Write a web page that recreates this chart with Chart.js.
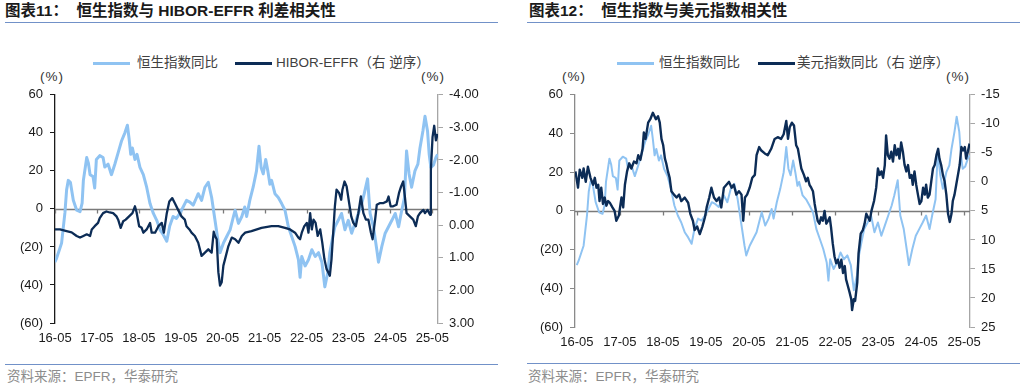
<!DOCTYPE html>
<html>
<head>
<meta charset="utf-8">
<script src="https://cdn.jsdelivr.net/npm/chart.js@4.4.1/dist/chart.umd.min.js"></script>
<style>
  body { margin: 0; background: #fff; width: 1024px; height: 384px; overflow: hidden; position: relative;
         font-family: "Liberation Sans", "Noto Sans CJK SC", sans-serif; }
  .abs { position: absolute; white-space: nowrap; }
  .title { font-weight: bold; font-size: 15.5px; color: #1a1a1a; top: 2px; line-height: 18px; }
  .rule { height: 1px; background: #7191c8; }
  .src { font-size: 13.5px; color: #8c8c8c; top: 369px; line-height: 16px; }
  .leg { font-size: 13.5px; color: #404040; top: 55px; line-height: 16px; }
  .sw { height: 2.5px; top: 62px; width: 37px; }
  .unit { font-size: 13.5px; color: #333; top: 69px; line-height: 16px; letter-spacing: 1px; }
  canvas { position: absolute; }
</style>
</head>
<body>
<div class="abs title" style="left:5px">图表11：&nbsp;&nbsp;恒生指数与 HIBOR-EFFR 利差相关性</div>
<div class="abs title" style="left:529px">图表12：&nbsp;&nbsp;恒生指数与美元指数相关性</div>
<div class="abs rule" style="left:5px;width:493px;top:22px"></div>
<div class="abs rule" style="left:527px;width:493px;top:22px"></div>

<div class="abs sw" style="left:93px;background:#8fc3f2"></div>
<div class="abs leg" style="left:137px">恒生指数同比</div>
<div class="abs sw" style="left:235px;background:#0c2c56"></div>
<div class="abs leg" style="left:276px">HIBOR-EFFR（右 逆序）</div>
<div class="abs sw" style="left:617px;background:#8fc3f2"></div>
<div class="abs leg" style="left:659px">恒生指数同比</div>
<div class="abs sw" style="left:758px;background:#0c2c56"></div>
<div class="abs leg" style="left:797px">美元指数同比（右 逆序）</div>

<div class="abs unit" style="left:40px">(%)</div>
<div class="abs unit" style="left:421px">(%)</div>
<div class="abs unit" style="left:562px">(%)</div>
<div class="abs unit" style="left:946px">(%)</div>

<canvas id="c11" width="512" height="275" style="left:0;top:80px"></canvas>
<canvas id="c12" width="512" height="275" style="left:512px;top:80px"></canvas>

<div class="abs rule" style="left:5px;width:493px;top:364px"></div>
<div class="abs rule" style="left:527px;width:493px;top:363px"></div>
<div class="abs src" style="left:7px">资料来源：EPFR，华泰研究</div>
<div class="abs src" style="left:528px">资料来源：EPFR，华泰研究</div>

<script>
// x axis labels (May of each year)
const xLabels = ['16-05', '17-05', '18-05', '19-05', '20-05', '21-05', '22-05', '23-05', '24-05', '25-05'];
const tickYears = xLabels.map(l => 2000 + parseInt(l) + 4 / 12);

// 恒生指数同比 (%), dates as decimal years
const hsiDates = [2016.33, 2016.37, 2016.43, 2016.49, 2016.57, 2016.61, 2016.65, 2016.70, 2016.77, 2016.85,
  2016.93, 2016.98, 2017.01, 2017.09, 2017.13, 2017.17, 2017.24, 2017.28, 2017.32, 2017.40,
  2017.48, 2017.52, 2017.60, 2017.68, 2017.76, 2017.84, 2017.92, 2018.00, 2018.06, 2018.10,
  2018.14, 2018.18, 2018.24, 2018.29, 2018.36, 2018.44, 2018.52, 2018.60, 2018.68, 2018.76,
  2018.84, 2018.92, 2019.00, 2019.07, 2019.15, 2019.23, 2019.31, 2019.39, 2019.47, 2019.55,
  2019.63, 2019.71, 2019.75, 2019.83, 2019.91, 2019.99, 2020.07, 2020.15, 2020.23, 2020.27,
  2020.35, 2020.43, 2020.51, 2020.59, 2020.63, 2020.71, 2020.79, 2020.86, 2020.905, 2020.98,
  2021.06, 2021.14, 2021.20, 2021.25, 2021.30, 2021.36, 2021.41, 2021.46, 2021.50, 2021.58,
  2021.66, 2021.74, 2021.82, 2021.90, 2021.98, 2022.06, 2022.14, 2022.18, 2022.22, 2022.30,
  2022.38, 2022.46, 2022.54, 2022.62, 2022.70, 2022.77, 2022.84, 2022.89, 2022.95, 2023.01,
  2023.09, 2023.17, 2023.25, 2023.33, 2023.41, 2023.49, 2023.57, 2023.65, 2023.71, 2023.79,
  2023.85, 2023.93, 2024.01, 2024.05, 2024.13, 2024.21, 2024.29, 2024.37, 2024.45, 2024.53,
  2024.59, 2024.67, 2024.72, 2024.78, 2024.84, 2024.92, 2024.99, 2025.04, 2025.11, 2025.16,
  2025.22, 2025.26, 2025.30, 2025.36, 2025.42, 2025.46];
const hsiValues = [-28, -26, -22, -18, -2, 10, 15, 14, 4.5, -0.7,
  -1.5, 3, 15, 27, 24, 18, 17, 11, 26, 28,
  27, 22, 23.5, 18, 23.5, 29.6, 35.7, 40, 44, 37,
  28.7, 32, 26, 28.7, 21.8, 18, 11.4, 2.8, -2.4, -6,
  -11, -13.7, -17, -9, -4, -5, -2.4, 1, 4.5, 3.6,
  2, 6, 8, 4.5, 11.4, 14, 6, -6, -18, -23,
  -18, -14.5, -11, -4, -0.7, -7.6, -4, 1, -4, 4.5,
  11.4, 20, 33, 21.8, 18.4, 26, 20, 13, 15, 8,
  6, 2.8, -0.7, -9.4, -14.5, -19.7, -26.7, -36, -25, -30,
  -26.7, -21.5, -25, -23, -28, -41, -33.6, -23, -16, -9.4,
  -6, -2.4, -11, -6, -12.8, -7.6, -2.4, 2.8, 8, 15.8,
  -2.4, -9.4, -21.5, -28, -19.7, -12.8, -9.4, -6, -2.4, -9.4,
  -2.4, 6, 30.5, 18.4, 11.4, 20, 23.5, 32, 41, 48.7,
  41, 28.7, 21.8, 23, 27, 28.7];

// HIBOR-EFFR (%, right axis, reversed)
const hiborDates = [2016.33, 2016.45, 2016.61, 2016.73, 2016.85, 2016.93, 2017.01, 2017.09, 2017.17, 2017.21,
  2017.28, 2017.36, 2017.40, 2017.48, 2017.56, 2017.64, 2017.72, 2017.80, 2017.84, 2017.90,
  2017.96, 2018.02, 2018.10, 2018.18, 2018.24, 2018.28, 2018.34, 2018.40, 2018.44, 2018.52,
  2018.60, 2018.64, 2018.72, 2018.80, 2018.88, 2018.93, 2019.00, 2019.06, 2019.13, 2019.19,
  2019.27, 2019.35, 2019.43, 2019.47, 2019.54, 2019.59, 2019.67, 2019.75, 2019.83, 2019.91,
  2019.99, 2020.07, 2020.12, 2020.15, 2020.19, 2020.23, 2020.27, 2020.31, 2020.35, 2020.39,
  2020.47, 2020.55, 2020.63, 2020.71, 2020.79, 2020.87, 2021.02, 2021.26, 2021.50, 2021.66,
  2021.82, 2021.94, 2022.06, 2022.14, 2022.18, 2022.22, 2022.28, 2022.34, 2022.38, 2022.42,
  2022.46, 2022.50, 2022.55, 2022.60, 2022.66, 2022.71, 2022.76, 2022.81, 2022.85, 2022.89,
  2022.93, 2022.97, 2023.01, 2023.05, 2023.11, 2023.16, 2023.19, 2023.24, 2023.29, 2023.35,
  2023.40, 2023.45, 2023.51, 2023.57, 2023.63, 2023.69, 2023.75, 2023.81, 2023.87, 2023.91,
  2023.97, 2024.01, 2024.09, 2024.17, 2024.25, 2024.29, 2024.34, 2024.40, 2024.48, 2024.54,
  2024.59, 2024.64, 2024.68, 2024.72, 2024.80, 2024.88, 2024.94, 2024.99, 2025.04, 2025.12,
  2025.16, 2025.22, 2025.28, 2025.30, 2025.34, 2025.38, 2025.42, 2025.46];
const hiborValues = [0.13, 0.13, 0.18, 0.22, 0.33, 0.38, 0.33, 0.28, 0.33, 0.13,
  0.03, -0.07, -0.22, -0.37, -0.42, -0.39, -0.37, -0.27, -0.17, 0.08,
  -0.12, -0.17, -0.27, -0.37, -0.58, -0.39, 0.03, 0.08, 0.23, 0.13,
  -0.07, 0.23, 0.23, 0.03, -0.07, 0.23, -0.37, -0.73, -0.83, -0.68,
  -0.47, -0.27, -0.17, 0.03, 0.13, 0.23, 0.33, 0.54, 0.94, 0.84,
  0.74, 0.84, 0.2, 0.33, 0.43, 1.44, 1.85, 1.75, 1.24, 1.04,
  0.64, 0.38, 0.43, 0.54, 0.33, 0.23, 0.18, 0.08, 0.03, 0.03,
  0.08, 0.13, 0.23, 0.38, 0.43, 0.23, 0.03, -0.07, 0.23, -0.37,
  0.13, -0.17, -0.07, 0.33, 0.13, 0.54, 1.04, 1.34, 1.44, 1.55,
  1.04, 0.23, -0.58, -1.09, -0.99, -0.78, -1.09, -1.34, -1.19, -0.68,
  -0.27, -0.07, 0.03, -0.37, -0.88, -0.37, -0.17, -0.17, 0.23, 0.43,
  -0.17, -0.63, -0.68, -0.68, -0.73, -0.88, -0.58, -0.58, -0.63, -0.99,
  -1.19, -1.34, -0.88, -0.37, -0.27, -0.17, 0.03, -0.27, -0.37, -0.47,
  -0.37, -0.47, -0.32, -1.69, -2.7, -3.05, -2.6, -2.8];

// 美元指数同比 (%, right axis, reversed)
const usdDates = [2016.30, 2016.36, 2016.40, 2016.46, 2016.49, 2016.54, 2016.59, 2016.65, 2016.71, 2016.75,
  2016.79, 2016.83, 2016.86, 2016.90, 2016.94, 2016.98, 2017.02, 2017.06, 2017.10, 2017.16,
  2017.21, 2017.25, 2017.31, 2017.37, 2017.41, 2017.45, 2017.50, 2017.55, 2017.60, 2017.66,
  2017.72, 2017.76, 2017.81, 2017.86, 2017.89, 2017.93, 2017.99, 2018.04, 2018.10, 2018.17,
  2018.22, 2018.26, 2018.30, 2018.34, 2018.38, 2018.41, 2018.45, 2018.49, 2018.53, 2018.59,
  2018.65, 2018.71, 2018.76, 2018.84, 2018.92, 2018.97, 2019.03, 2019.07, 2019.13, 2019.19,
  2019.25, 2019.31, 2019.35, 2019.41, 2019.46, 2019.52, 2019.58, 2019.64, 2019.69, 2019.75,
  2019.81, 2019.87, 2019.93, 2019.98, 2020.04, 2020.10, 2020.16, 2020.20, 2020.24, 2020.29,
  2020.35, 2020.41, 2020.47, 2020.51, 2020.57, 2020.62, 2020.70, 2020.77, 2020.85, 2020.93,
  2021.00, 2021.08, 2021.14, 2021.20, 2021.24, 2021.28, 2021.33, 2021.38, 2021.43, 2021.47,
  2021.51, 2021.55, 2021.61, 2021.66, 2021.70, 2021.74, 2021.78, 2021.82, 2021.86, 2021.90,
  2021.93, 2021.97, 2022.01, 2022.05, 2022.09, 2022.13, 2022.17, 2022.21, 2022.24, 2022.28,
  2022.32, 2022.36, 2022.40, 2022.44, 2022.48, 2022.52, 2022.56, 2022.59, 2022.63, 2022.67,
  2022.71, 2022.73, 2022.77, 2022.80, 2022.85, 2022.88, 2022.93, 2022.98, 2023.02, 2023.06,
  2023.10, 2023.14, 2023.18, 2023.24, 2023.29, 2023.33, 2023.37, 2023.41, 2023.45, 2023.49,
  2023.52, 2023.56, 2023.60, 2023.64, 2023.68, 2023.72, 2023.76, 2023.80, 2023.83, 2023.87,
  2023.91, 2023.95, 2023.99, 2024.03, 2024.07, 2024.11, 2024.14, 2024.18, 2024.22, 2024.26,
  2024.30, 2024.34, 2024.38, 2024.42, 2024.45, 2024.49, 2024.53, 2024.57, 2024.61, 2024.65,
  2024.69, 2024.73, 2024.76, 2024.80, 2024.84, 2024.88, 2024.92, 2024.96, 2025.00, 2025.04,
  2025.07, 2025.11, 2025.15, 2025.19, 2025.23, 2025.27, 2025.31, 2025.35, 2025.38, 2025.42,
  2025.46];
const usdValues = [-1.8, 1, -2.1, -0.7, -2.3, 0, -2.6, -0.7, 0.5, -0.7,
  1, 0.5, 3.3, 1, 3.8, 2.7, 4.1, 3.3, 3.6, 4.4,
  5, 6.7, 5.8, 2.7, 4.4, 0.5, -1.8, -3.2, -2.3, -3.5,
  -3.2, -4.6, -3.8, -5.7, -8.5, -7.4, -10.2, -10.8, -11.9, -10.8,
  -11.3, -10.2, -7.4, -6.3, -4, -3.2, -1.8, -0.7, 1.6, 2.2,
  2.7, 2.2, 3.3, 2.7, 3.6, 5.5, 6.7, 8.3, 7.7, 9,
  7.7, 6.1, 4.4, 2.7, 1, 2.7, 3.3, 2.7, 4.4, 1,
  0.5, 0, 1, 0.5, 2.2, 1.6, 2.2, 6.7, 2.7, 2.2,
  1, -0.7, -1.2, -4.6, -6, -5.4, -4.9, -4.6, -5.7, -7.4,
  -7.7, -7.4, -8.2, -10.5, -7.4, -9.4, -10.2, -9.7, -6.3, -5.7,
  -4, -2.3, -1.2, -0.1, -0.7, 0.5, 1, 1.6, 3.8, 5.5,
  6.7, 7.2, 6.1, 6.7, 5, 7.2, 6.7, 6.1, 7.8, 10.6,
  12.8, 14, 13.4, 14.8, 13.4, 15.7, 14.5, 16.8, 17.9, 19,
  20.2, 22.1, 20.2, 20.5, 17.3, 12.3, 8.9, 8.3, 7.2, 5.5,
  6.1, 6.7, 5, 3.3, 1, -2.3, -1.2, -1.8, -0.7, -2.9,
  -8, -4.6, -4, -5.2, -3.5, -6.3, -4.6, -5.7, -4, -6.8,
  -5.2, -2.9, -1.8, -2.9, -0.7, -1.2, 0.5, -1.8, 0.5, 2.2,
  3.8, 3.3, 1, 2.2, 0.5, 2.7, 2.2, -0.1, -2.3, -2.9,
  -4.6, -5.7, -4, -2.9, -1.2, -0.1, 2.2, 5.5, 6.9, 5.5,
  3.3, 2.2, 0.5, -1.2, -2.9, -6, -5.4, -6, -4, -5.2,
  -6.6];

const lightBlue = '#8fc3f2';
const navy = '#0c2c56';

Chart.defaults.font.family = '"Liberation Sans", Arial, sans-serif';
Chart.defaults.font.size = 13;
Chart.defaults.color = '#1a1a1a';

const toPoints = (dates, values) => dates.map((d, i) => ({ x: d, y: values[i] }));

// horizontal line at 0 on the left axis, with year tick marks hanging below it
const zeroLine = {
  id: 'zeroLine',
  beforeDatasetsDraw(chart) {
    const { ctx, chartArea, scales } = chart;
    const y = Math.round(scales.y.getPixelForValue(0)) + 0.5;
    ctx.save();
    ctx.strokeStyle = '#7a7a7a';
    ctx.lineWidth = 1.3;
    ctx.beginPath();
    ctx.moveTo(chartArea.left, y);
    ctx.lineTo(chartArea.right, y);
    scales.x.ticks.forEach(t => {
      const x = Math.round(scales.x.getPixelForValue(t.value)) + 0.5;
      ctx.moveTo(x, y);
      ctx.lineTo(x, y + 4);
    });
    ctx.stroke();
    ctx.restore();
  }
};

function makeChart(id, o) {
  return new Chart(document.getElementById(id), {
    type: 'line',
    data: {
      datasets: [
        { data: toPoints(hsiDates, hsiValues), yAxisID: 'y', borderColor: lightBlue, borderWidth: o.lightWidth, order: 1 },
        { data: toPoints(o.rightDates, o.rightValues), yAxisID: 'y2', borderColor: navy, borderWidth: o.darkWidth, order: 0 }
      ]
    },
    options: {
      responsive: false,
      animation: false,
      layout: { padding: { top: o.top, left: 0, right: 0, bottom: 0 } },
      elements: { point: { radius: 0 }, line: { tension: 0, borderJoinStyle: 'round' } },
      plugins: { legend: { display: false }, tooltip: { enabled: false } },
      scales: {
        x: {
          type: 'linear', min: o.xMin, max: 2025.47,
          afterBuildTicks: s => { s.ticks = tickYears.map(v => ({ value: v })); },
          afterFit: s => { s.height = o.xHeight; },
          grid: { display: false, drawTicks: false },
          border: { display: false },
          ticks: { autoSkip: false, maxRotation: 0, padding: 8, callback: (v, i) => xLabels[i] }
        },
        y: {
          position: 'left', min: -60, max: 60,
          afterFit: s => { s.width = o.leftWidth; },
          grid: { drawOnChartArea: false, tickLength: 5, color: o.leftAxisColor },
          border: { color: o.leftAxisColor, width: 1.3 },
          ticks: { stepSize: 20, padding: 7, callback: v => v < 0 ? '(' + (-v) + ')' : String(v) }
        },
        y2: {
          position: 'right', min: o.rMin, max: o.rMax, reverse: true,
          afterFit: s => { s.width = o.rightWidth; },
          grid: { drawOnChartArea: false, tickLength: 5, color: '#a6a6a6' },
          border: { color: '#a6a6a6', width: 1.3 },
          ticks: { stepSize: o.rStep, padding: 6, callback: o.rFormat }
        }
      }
    },
    plugins: [zeroLine]
  });
}

makeChart('c11', {
  rightDates: hiborDates, rightValues: hiborValues,
  lightWidth: 3, darkWidth: 2.3, top: 12, xHeight: 32, xMin: 2016.333,
  leftWidth: 55, rightWidth: 74, leftAxisColor: '#1a1a1a',
  rMin: -4, rMax: 3, rStep: 1, rFormat: v => v.toFixed(2)
});

makeChart('c12', {
  rightDates: usdDates, rightValues: usdValues,
  lightWidth: 2, darkWidth: 2.4, top: 10, xHeight: 28, xMin: 2016.29,
  leftWidth: 63, rightWidth: 54, leftAxisColor: '#8a8a8a',
  rMin: -15, rMax: 25, rStep: 5, rFormat: v => String(v)
});
</script>
</body>
</html>
